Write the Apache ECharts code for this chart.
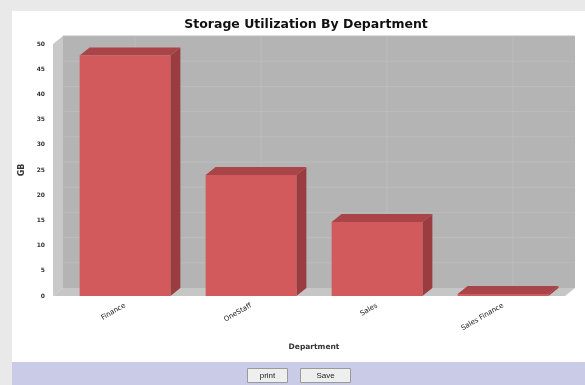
<!DOCTYPE html>
<html>
<head>
<meta charset="utf-8">
<script src="https://cdn.jsdelivr.net/npm/echarts@6/dist/echarts.min.js"></script>
<style>
  html, body { margin: 0; padding: 0; background: #e9e9e9; }
  #chart { width: 585px; height: 385px; }
</style>
</head>
<body>
<div id="chart"></div>
<script>
// Storage use per department (GB)
const departments = ['Finance', 'OneStaff', 'Sales', 'Sales Finance'];
const storageGB = [47.7, 24.0, 14.7, 0.4];
const yTicks = { min: 0, max: 50, step: 5 };

// depth of the pseudo-3D box
const DX = 10, DY = 8;
const WALL_EXTRA_LEFT = 9;

const FONT = '"Liberation Sans", Arial, sans-serif';
const WIDE = '"DejaVu Sans", sans-serif';

const chart = echarts.init(document.getElementById('chart'), null, { renderer: 'canvas' });

function wallsItem(params, api) {
  const cs = params.coordSys;
  const fl = cs.x - WALL_EXTRA_LEFT, fr = cs.x + cs.width - 1;
  const ft = cs.y, fb = cs.y + cs.height;
  const children = [];
  // back wall
  children.push({ type: 'rect', shape: { x: fl + DX, y: ft - DY, width: fr - fl, height: fb - ft }, style: { fill: '#b4b4b4' } });
  // left wall
  children.push({ type: 'polygon', shape: { points: [[fl, ft], [fl + DX, ft - DY], [fl + DX, fb - DY], [fl, fb]] }, style: { fill: '#c9c9c9' } });
  // floor
  children.push({ type: 'polygon', shape: { points: [[fl, fb], [fl + DX, fb - DY], [fr + DX, fb - DY], [fr, fb]] }, style: { fill: '#c6c6c6' } });
  // horizontal grid lines on the back wall
  for (let v = yTicks.min + yTicks.step; v <= yTicks.max; v += yTicks.step) {
    const p = api.coord([0, v]);
    children.push({ type: 'line', shape: { x1: fl + DX, y1: p[1] - DY, x2: fr + DX, y2: p[1] - DY }, style: { stroke: '#bcbcbc', lineWidth: 1 } });
  }
  // vertical grid lines at category centres
  for (let i = 0; i < departments.length; i++) {
    const p = api.coord([i, 0]);
    children.push({ type: 'line', shape: { x1: p[0] + DX, y1: ft - DY, x2: p[0] + DX, y2: fb - DY }, style: { stroke: '#bcbcbc', lineWidth: 1 } });
  }
  return { type: 'group', children };
}

function barItem(params, api) {
  const idx = api.value(0);
  const top = api.coord([idx, api.value(1)]);
  const base = api.coord([idx, 0]);
  const band = api.size([1, 0])[0];
  const w = band * 0.72;
  const x0 = top[0] - w / 2, x1 = x0 + w;
  const y0 = top[1], yb = base[1];
  return {
    type: 'group',
    children: [
      { type: 'polygon', shape: { points: [[x1, y0], [x1 + DX, y0 - DY], [x1 + DX, yb - DY], [x1, yb]] }, style: { fill: '#9a3c40' } },
      { type: 'polygon', shape: { points: [[x0, y0], [x0 + DX, y0 - DY], [x1 + DX, y0 - DY], [x1, y0]] }, style: { fill: '#a94448' } },
      { type: 'rect', shape: { x: x0, y: y0, width: w, height: Math.max(yb - y0, 0) }, style: { fill: '#d35a5c' } }
    ]
  };
}

const option = {
  backgroundColor: '#e9e9e9',
  animation: false,
  graphic: [
    { type: 'rect', z: -10, shape: { x: 12, y: 11, width: 573, height: 351 }, style: { fill: '#ffffff' } },
    { type: 'rect', z: -10, shape: { x: 12, y: 362, width: 573, height: 23 }, style: { fill: '#c9cbe7' } },
    { type: 'group', left: 247, top: 368, children: [
      { type: 'rect', shape: { x: 0, y: 0, width: 40, height: 14 }, style: { fill: '#eeeeee', stroke: '#9a9a9a', lineWidth: 1 } },
      { type: 'text', style: { x: 20, y: 7, text: 'print', fill: '#222', font: '8px ' + FONT, align: 'center', verticalAlign: 'middle' } }
    ] },
    { type: 'group', left: 300, top: 368, children: [
      { type: 'rect', shape: { x: 0, y: 0, width: 50, height: 14 }, style: { fill: '#eeeeee', stroke: '#9a9a9a', lineWidth: 1 } },
      { type: 'text', style: { x: 25, y: 7, text: 'Save', fill: '#222', font: '8px ' + FONT, align: 'center', verticalAlign: 'middle' } }
    ] }
  ],
  title: {
    text: 'Storage Utilization By Department',
    left: 301, top: 13, textAlign: 'center',
    textStyle: { fontFamily: WIDE, fontWeight: 'bold', fontSize: 12.5, color: '#111' }
  },
  grid: { left: 62, right: 19, top: 44, bottom: 89 },
  xAxis: {
    type: 'category',
    data: departments,
    name: 'Department',
    nameLocation: 'middle',
    nameGap: 47,
    nameTextStyle: { fontFamily: WIDE, fontWeight: 'bold', fontSize: 7.5, color: '#333' },
    axisLine: { show: false },
    axisTick: { show: false },
    splitLine: { show: false },
    axisLabel: { rotate: 30, margin: 9, fontSize: 7, color: '#222', fontFamily: WIDE }
  },
  yAxis: {
    type: 'value',
    min: yTicks.min, max: yTicks.max, interval: yTicks.step,
    name: 'GB',
    nameLocation: 'middle',
    nameRotate: 90,
    nameGap: 25,
    nameTextStyle: { fontFamily: WIDE, fontWeight: 'bold', fontSize: 8, color: '#333' },
    axisLine: { show: false },
    axisTick: { show: false },
    splitLine: { show: false },
    axisLabel: { margin: 17, fontSize: 6, fontWeight: 'bold', color: '#333', fontFamily: WIDE }
  },
  series: [
    { type: 'custom', z: 1, silent: true, renderItem: wallsItem, data: [[0]], encode: { x: 0 }, clip: false },
    { type: 'custom', z: 2, renderItem: barItem, data: storageGB.map((v, i) => [i, v]), encode: { x: 0, y: 1 }, clip: false }
  ]
};
chart.setOption(option);
</script>
</body>
</html>
